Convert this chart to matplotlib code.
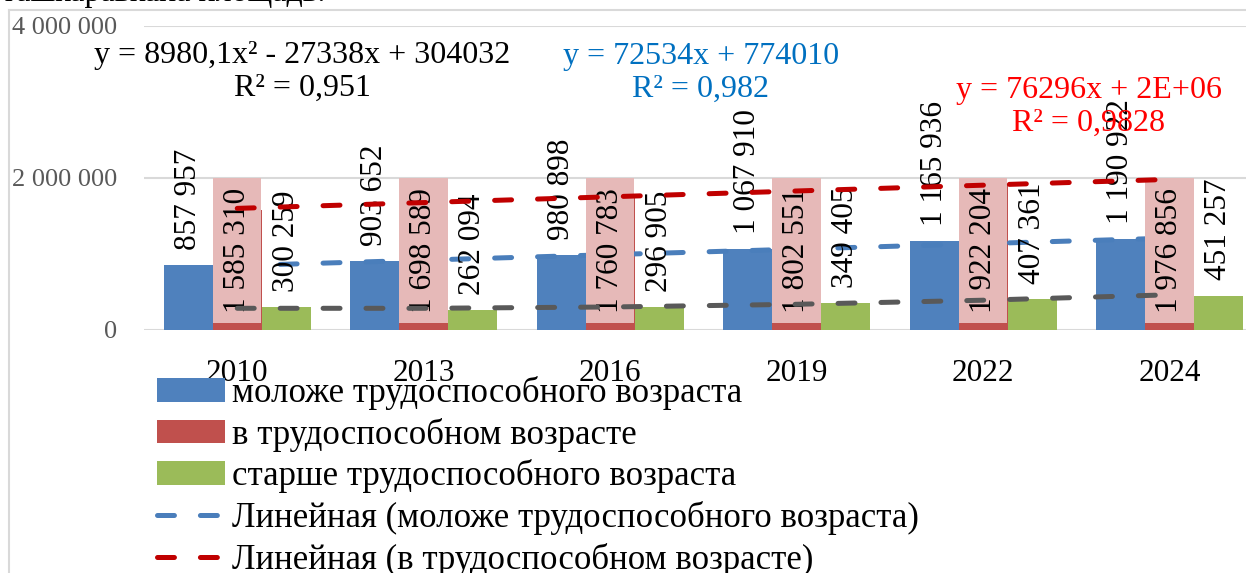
import numpy as np
import matplotlib
matplotlib.use("Agg")
import matplotlib.pyplot as plt
from matplotlib.patches import Patch
from matplotlib.lines import Line2D

plt.rcParams['font.family'] = ['Liberation Serif', 'DejaVu Serif']
plt.rcParams['lines.scale_dashes'] = False

# ---- data ----
years = ['2010', '2013', '2016', '2019', '2022', '2024']
young = [857957, 903652, 980898, 1067910, 1165936, 1190922]
working = [1585310, 1698589, 1760783, 1802551, 1922204, 1976856]
old = [300259, 262094, 296905, 349405, 407361, 451257]
series_names = ['моложе трудоспособного возраста',
                'в трудоспособном возрасте',
                'старше трудоспособного возраста']
trend_names = ['Линейная (моложе трудоспособного возраста)',
               'Линейная (в трудоспособном возрасте)']
eq_old = 'y = 8980,1x² - 27338x + 304032\nR² = 0,951'
eq_young = 'y = 72534x + 774010\nR² = 0,982'
eq_work = 'y = 76296x + 2E+06\nR² = 0,9828'
yticks = [0, 2000000, 4000000]

def fmt(v):
    return f'{v:,}'.replace(',', ' ')

# ---- colours ----
C_BLUE = '#4F81BD'
C_RED = '#C0504D'
C_GREEN = '#9BBB59'
C_PINK = '#E6B9B8'
C_TBLUE = '#4A7EBB'
C_TRED = '#C00000'
C_TGRAY = '#595959'

W, H = 1246, 573
fig = plt.figure(figsize=(W / 100, H / 100), dpi=100)
ax = fig.add_axes([144 / W, (H - 330) / H, 1119 / W, 304 / H])

x = np.arange(len(years))
bw = 0.263
FS = 22.5

ax.set_ylim(0, 4000000)
ax.set_xlim(-0.5, len(years) - 0.5)
ax.set_yticks(yticks)
ax.set_yticklabels([fmt(v) for v in yticks], fontsize=19, color='#595959')
ax.set_xticks(x)
ax.set_xticklabels(years, fontsize=FS, color='black')
ax.tick_params(axis='both', length=0)
ax.tick_params(axis='y', pad=19)
ax.tick_params(axis='x', pad=21)
for s in ax.spines.values():
    s.set_visible(False)
ax.yaxis.grid(True, color='#D9D9D9', linewidth=1.5, zorder=0)
ax.set_axisbelow(True)

# bars
ax.bar(x - bw, young, width=bw, color=C_BLUE, zorder=2)
ax.bar(x, working, width=bw, color=C_RED, zorder=2)
ax.bar(x + bw, old, width=bw, color=C_GREEN, zorder=2)

# pink label boxes for the working-age series
strip = 95000
box_top = yticks[1]
ax.bar(x - bw / 2, [box_top - strip] * len(x), bottom=strip, width=bw * 0.985,
       align='edge', color=C_PINK, zorder=4)

# trend lines
xs = np.arange(1, len(years) + 1)
dash = (12.2, 18.7)
p_y = np.polyfit(xs, young, 1)
p_w = np.polyfit(xs, working, 1)
p_o = np.polyfit(xs, old, 2)
ax.plot(x, np.polyval(p_y, xs), color=C_TBLUE, lw=3.6, dashes=dash,
        dash_capstyle='round', zorder=3)
ax.plot(x, np.polyval(p_w, xs), color=C_TRED, lw=3.6, dashes=dash,
        dash_capstyle='round', zorder=6)
ax.plot(x, np.polyval(p_o, xs), color=C_TGRAY, lw=3.6, dashes=dash,
        dash_capstyle='round', zorder=6)

# data labels
for i in range(len(x)):
    ax.annotate(fmt(young[i]), (x[i] - bw, young[i]), xytext=(0, 11),
                textcoords='offset points', rotation=90, ha='center',
                va='bottom', fontsize=FS, zorder=5)
    ax.annotate(fmt(old[i]), (x[i] + bw, old[i]), xytext=(0, 11),
                textcoords='offset points', rotation=90, ha='center',
                va='bottom', fontsize=FS, zorder=5)
    ax.text(x[i], (box_top + strip) / 2, fmt(working[i]), rotation=90,
            ha='center', va='center', fontsize=FS, zorder=5)

# equations
fig.text(302 / W, 1 - 72 / H, eq_old, ha='center', va='center',
         multialignment='center', fontsize=23, color='black')
fig.text(701 / W, 1 - 73 / H, eq_young, ha='center', va='center',
         multialignment='center', fontsize=23, color='#0070C0')
fig.text(1089 / W, 1 - 107 / H, eq_work, ha='center', va='center',
         multialignment='center', fontsize=23, color='#FF0000')

# legend
LFS = 25
handles = [Patch(facecolor=C_BLUE), Patch(facecolor=C_RED), Patch(facecolor=C_GREEN),
           Line2D([], [], color=C_TBLUE, lw=3.6, dashes=dash, dash_capstyle='round'),
           Line2D([], [], color=C_TRED, lw=3.6, dashes=dash, dash_capstyle='round')]
fig.legend(handles, series_names + trend_names, loc='upper left',
           bbox_to_anchor=(157 / W, 1 - 376 / H), frameon=False,
           fontsize=LFS, handlelength=1.96, handleheight=0.66,
           handletextpad=0.2, labelspacing=0.22, borderpad=0, borderaxespad=0)

# chart frame and clipped document text above
fig.add_artist(Line2D([8.5 / W, 8.5 / W], [0, 1 - 10 / H], color='#D9D9D9',
                      lw=1.5, transform=fig.transFigure))
fig.add_artist(Line2D([8.5 / W, 1], [1 - 10 / H, 1 - 10 / H], color='#D9D9D9',
                      lw=1.5, transform=fig.transFigure))
fig.text(2 / W, 1 - 1.5 / H, 'ташкаравкана площадь.', ha='left', va='baseline',
         fontsize=23, color='black')

fig.savefig('out.png', dpi=100)
